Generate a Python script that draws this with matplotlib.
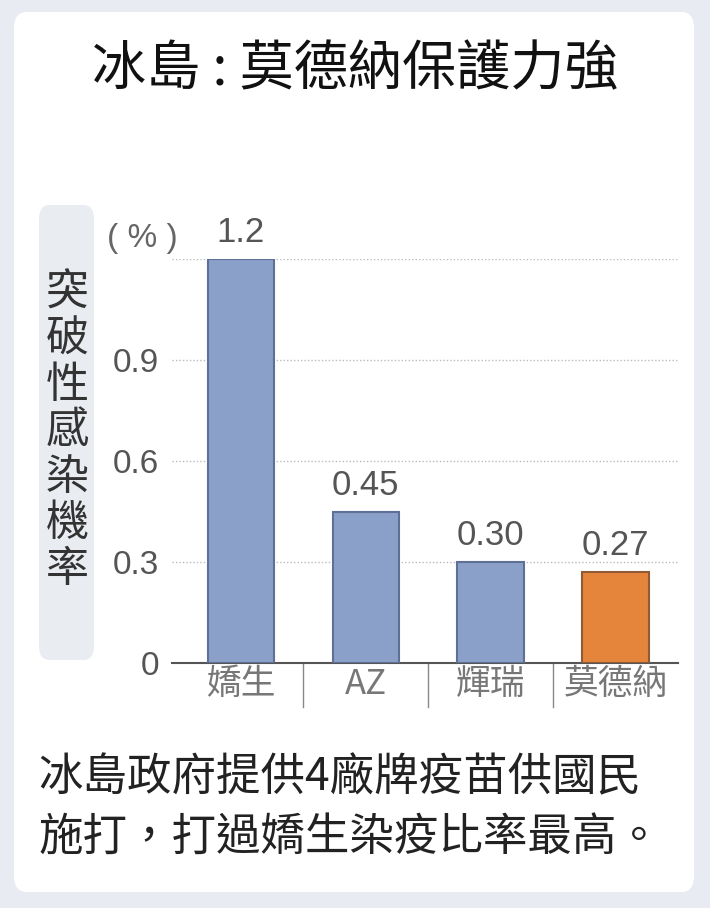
import matplotlib
matplotlib.use('Agg')
import matplotlib.pyplot as plt
from matplotlib.patches import FancyBboxPatch
from matplotlib.lines import Line2D

plt.rcParams['font.family'] = ['Noto Sans CJK TC', 'DejaVu Sans']

# 資料
vaccines = ['嬌生', 'AZ', '輝瑞', '莫德納']
rates = [1.2, 0.45, 0.30, 0.27]
rate_labels = ['1.2', '0.45', '0.30', '0.27']
yticks = [0, 0.3, 0.6, 0.9, 1.2]
ytick_labels = ['0', '0.3', '0.6', '0.9', '']
title = '冰島 : 莫德納保護力強'
ylabel = '突破性感染機率'
note = '冰島政府提供4廠牌疫苗供國民\n施打，打過嬌生染疫比率最高。'

W, H = 710, 908
bar_colors = ['#8ba0c8', '#8ba0c8', '#8ba0c8', '#e5843b']
edge_colors = ['#5f7096', '#5f7096', '#5f7096', '#8f5a36']
num_font = ['Liberation Sans', 'DejaVu Sans']


def fx(x):
    return x / W


def fy(y):
    return 1 - y / H


fig = plt.figure(figsize=(W / 100, H / 100), dpi=100)
fig.patch.set_facecolor('#e8ecf2')

# 白色卡片
card = FancyBboxPatch((fx(14), fy(892)), fx(680), (880 / H),
                      boxstyle='round,pad=0,rounding_size=0.018',
                      transform=fig.transFigure, facecolor='white',
                      edgecolor='none', zorder=-3)
fig.patches.append(card)

# y軸標題底框
ybox = FancyBboxPatch((fx(39), fy(660)), fx(55), 455 / H,
                      boxstyle='round,pad=0,rounding_size=0.015',
                      transform=fig.transFigure, facecolor='#e9ecf1',
                      edgecolor='none', zorder=-2)
fig.patches.append(ybox)

fig.text(0.5, fy(70), title, ha='center', va='center', fontsize=39,
         fontweight='medium', color='#111111')

for i, ch in enumerate(ylabel):
    fig.text(fx(67), fy(294 + i * 46), ch, ha='center', va='center',
             fontsize=31, color='#333333')

fig.text(fx(142), fy(239), '( % )', ha='center', va='center', fontsize=24,
         color='#666666', family=num_font)

ax = fig.add_axes([fx(172), fy(663), fx(678) - fx(172), (663 - 259) / H])
ax.set_facecolor('none')
x = list(range(len(vaccines)))
ax.bar(x, rates, width=0.53, color=bar_colors, edgecolor=edge_colors,
       linewidth=1.5, zorder=3)
ax.set_xlim(-0.55, 3.5)
ax.set_ylim(0, 1.2)

ax.set_yticks(yticks)
ax.set_yticklabels(ytick_labels, family=num_font)
ax.tick_params(axis='y', length=0, pad=9, labelsize=24, labelcolor='#555555')
ax.set_xticks(x)
ax.set_xticklabels(vaccines)
ax.tick_params(axis='x', length=0, pad=3, labelsize=25, labelcolor='#777777')

for t in yticks[1:]:
    ax.axhline(t, color='#bbbbbb', linestyle=(0, (1, 1.5)), linewidth=1,
               zorder=1)

for s in ['top', 'right', 'left']:
    ax.spines[s].set_visible(False)
ax.spines['bottom'].set_color('#555555')
ax.spines['bottom'].set_linewidth(1.5)

for xi, v, lab in zip(x, rates, rate_labels):
    ax.annotate(lab, (xi, v), xytext=(0, 7), textcoords='offset points',
                ha='center', va='bottom', fontsize=25, color='#555555',
                family=num_font)

# 類別分隔線
for xi in x[:-1]:
    sep = Line2D([xi + 0.5, xi + 0.5], [0, -0.13], color='#888888',
                 linewidth=1, transform=ax.transData, clip_on=False)
    ax.add_line(sep)

fig.text(fx(38), fy(807), note, ha='left', va='center', fontsize=32,
         color='#222222', linespacing=1.36)

fig.savefig('out.png', dpi=100, facecolor=fig.get_facecolor())
